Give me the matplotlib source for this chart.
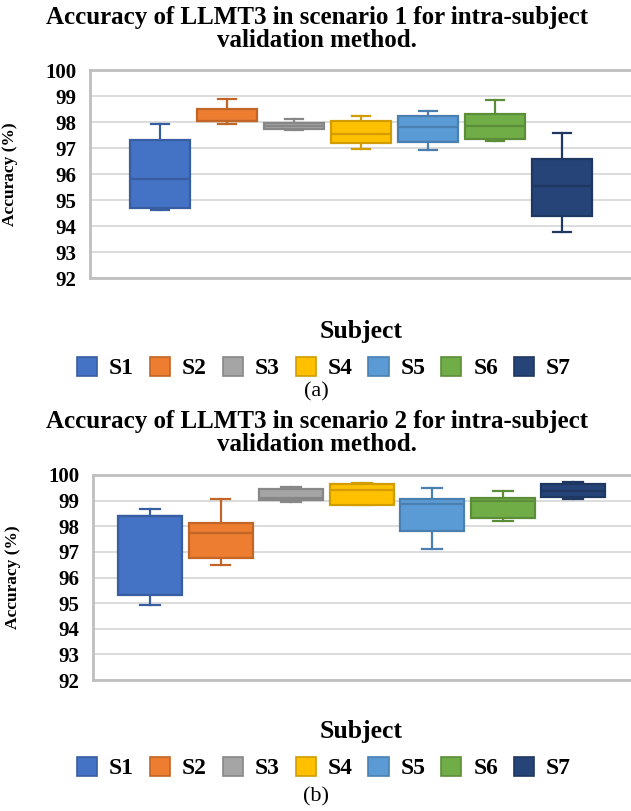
import matplotlib.pyplot as plt
from matplotlib.patches import Patch
from matplotlib.colors import to_rgb

plt.rcParams['font.family'] = ['Liberation Serif', 'DejaVu Serif']
plt.rcParams['font.weight'] = 'bold'

subjects = ['S1', 'S2', 'S3', 'S4', 'S5', 'S6', 'S7']
colors = ['#4472C4', '#ED7D31', '#A5A5A5', '#FFC000', '#5B9BD5', '#70AD47', '#264478']

# scenario 1 box stats (whisker low, q1, median, q3, whisker high)
s1_lo = [94.60, 97.91, 97.70, 96.97, 96.94, 97.26, 93.78]
s1_q1 = [94.70, 98.05, 97.72, 97.21, 97.25, 97.33, 94.40]
s1_med = [95.82, 98.05, 97.83, 97.52, 97.79, 97.86, 95.55]
s1_q3 = [97.32, 98.49, 97.96, 98.04, 98.25, 98.32, 96.58]
s1_hi = [97.94, 98.88, 98.10, 98.22, 98.44, 98.86, 97.56]

# scenario 2
s2_lo = [94.93, 96.48, 98.94, 98.83, 97.10, 98.21, 99.05]
s2_q1 = [95.30, 96.75, 99.01, 98.83, 97.83, 98.34, 99.14]
s2_med = [98.39, 97.74, 99.10, 99.41, 98.87, 98.97, 99.38]
s2_q3 = [98.39, 98.13, 99.45, 99.63, 99.08, 99.12, 99.64]
s2_hi = [98.68, 99.06, 99.55, 99.67, 99.51, 99.39, 99.74]


def darker(c, f=0.82):
    r, g, b = to_rgb(c)
    return (r * f, g * f, b * f)


def draw_panel(ax, lo, q1, med, q3, hi, xlim):
    stats = []
    for i in range(len(subjects)):
        stats.append(dict(whislo=lo[i], q1=q1[i], med=med[i], q3=q3[i],
                          whishi=hi[i], label=subjects[i]))
    bp = ax.bxp(stats, positions=range(len(subjects)), widths=0.91,
                patch_artist=True, showfliers=False, capwidths=0.28)
    for i, c in enumerate(colors):
        ec = darker(c)
        bp['boxes'][i].set(facecolor=c, edgecolor=ec, linewidth=1.6, zorder=3)
        bp['medians'][i].set(color=ec, linewidth=1.6, zorder=4)
        for ln in bp['whiskers'][2 * i:2 * i + 2] + bp['caps'][2 * i:2 * i + 2]:
            ln.set(color=ec, linewidth=1.6, zorder=2)
    ax.set_ylim(92, 100)
    ax.set_yticks(range(92, 101))
    ax.set_xlim(*xlim)
    ax.set_xticks([])
    ax.yaxis.grid(True, color='#d9d9d9', linewidth=1.3, zorder=0)
    ax.set_axisbelow(True)
    ax.tick_params(axis='y', length=0, pad=10, labelsize=15)
    for lab in ax.get_yticklabels():
        lab.set_fontweight('bold')
    for s in ['left', 'top', 'bottom']:
        ax.spines[s].set_color('#bfbfbf')
        ax.spines[s].set_linewidth(2)
    ax.spines['right'].set_visible(False)


fig = plt.figure(figsize=(6.31, 8.11), dpi=100)
W, H = 631, 811

ax1 = fig.add_axes([90 / W, 1 - 278 / H, 1 - 90 / W, (278 - 70) / H])
draw_panel(ax1, s1_lo, s1_q1, s1_med, s1_q3, s1_hi, (-1.045, 7.03))
ax2 = fig.add_axes([93 / W, 1 - 680 / H, 1 - 93 / W, (680 - 475) / H])
draw_panel(ax2, s2_lo, s2_q1, s2_med, s2_q3, s2_hi, (-0.81, 6.82))

titles = ['Accuracy of LLMT3 in scenario 1 for intra-subject\nvalidation method.',
          'Accuracy of LLMT3 in scenario 2 for intra-subject\nvalidation method.']
title_y = [29, 433]
subject_y = [320, 720]
legend_y = [368, 768]
tag_y = [392, 797]
label_x = [18, 21]
for k, ax in enumerate([ax1, ax2]):
    fig.text(317 / W, 1 - title_y[k] / H, titles[k], ha='center', va='center',
             fontsize=18, fontweight='bold', linespacing=1.0)
    ax.set_ylabel('Accuracy (%)', fontsize=12.5, fontweight='bold')
    ax.yaxis.set_label_coords(label_x[k] / W, 0.5 * (ax.get_position().y0 + ax.get_position().y1),
                              transform=fig.transFigure)
    ax.set_xlabel('Subject', fontsize=18.5, fontweight='bold')
    ax.xaxis.set_label_coords(361 / W, 1 - subject_y[k] / H, transform=fig.transFigure)
    handles = [Patch(facecolor=c, edgecolor=darker(c), linewidth=1.2) for c in colors]
    fig.legend(handles, subjects, loc='center', bbox_to_anchor=(324 / W, 1 - legend_y[k] / H),
               ncol=7, frameon=False, prop={'size': 17, 'weight': 'bold'},
               handlelength=0.85, handleheight=0.85, handletextpad=0.5,
               columnspacing=0.68)
    fig.text(316 / W, 1 - tag_y[k] / H, '(a)' if k == 0 else '(b)', ha='center',
             va='center', fontsize=16, fontweight='normal')

fig.savefig('out.png', dpi=100)
